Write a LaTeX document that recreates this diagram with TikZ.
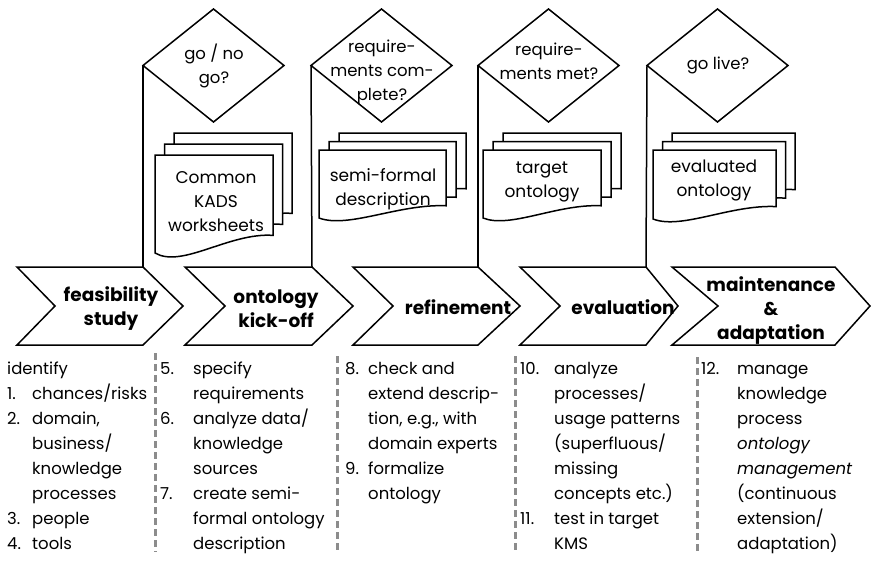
\documentclass[tikz,border=0pt]{standalone}
\usepackage{fontspec}
\setmainfont{Poppins}
\usetikzlibrary{shapes.geometric}
\newcommand\mydoc[4]{%
  \draw[docline] (#1,#2) -- ({#1+#3},#2) -- ({#1+#3},{#2+0.82*#4})
    .. controls ({#1+0.627*#3},{#2+0.79*#4}) and ({#1+0.23*#3},{#2+1.16*#4}) .. (#1,{#2+#4}) -- cycle;}
\tikzset{
  shapeline/.style={draw=black, line width=1.5pt, line join=miter},
  docline/.style={shapeline, fill=white},
  dec/.style={diamond, shapeline, minimum width=141pt, minimum height=113pt, inner sep=0pt, outer sep=0pt},
  dectext/.style={align=center, font=\fontsize{16.5}{24}\selectfont, inner sep=0pt},
  doctext/.style={align=center, font=\fontsize{17}{24}\selectfont, inner sep=0pt},
  phase/.style={align=center, font=\fontsize{18.5}{24}\selectfont\bfseries, inner sep=0pt},
  coltext/.style={anchor=base west, inner sep=0pt, font=\fontsize{16.5}{25}\selectfont},
  sepline/.style={draw=gray!90, line width=3pt, dash pattern=on 7pt off 4pt},
  link/.style={draw=black, line width=1.5pt}
}
\begin{document}
\begin{tikzpicture}[x=1pt,y=-1pt]
\useasboundingbox (0,0) rectangle (871,562);

% chevrons
\draw[shapeline] (17,267) -- (143,267) -- (183,306) -- (143,345) -- (17,345) -- (55,306) -- cycle;
\draw[shapeline] (185,267) -- (312,267) -- (353,306) -- (312,345) -- (185,345) -- (225,306) -- cycle;
\draw[shapeline] (353,267) -- (478,267) -- (520,306) -- (478,345) -- (353,345) -- (393,306) -- cycle;
\draw[shapeline] (520,267) -- (646,267) -- (678,306) -- (646,345) -- (520,345) -- (560,306) -- cycle;
\draw[shapeline] (672,267) -- (835,267) -- (870,306) -- (835,345) -- (672,345) -- (718,306) -- cycle;
\coordinate (c1tr) at (143,267);
\coordinate (c2tr) at (312,267);
\coordinate (c3tr) at (478,267);
\coordinate (c4tr) at (646,267);

\node[phase] (p1) at (111,309) {feasibility\\study};
\node[phase] (p2) at (276,309) {ontology\\kick-off};
\node[phase] (p3) at (458,307) {refinement};
\node[phase] (p4) at (623,307) {evaluation};
\node[phase] (p5) at (771,311) {maintenance\\\&\\adaptation};

% decisions
\node[dec] (d1) at (213.5,65.5) {};
\node[dec] (d2) at (381.5,65.5) {};
\node[dec] (d3) at (548.5,65.5) {};
\node[dec] (d4) at (717.5,65.5) {};
\node[dectext] (t1) at (214,66) {go / no\\go?};
\node[dectext] (t2) at (382,72) {require-\\ments com-\\plete?};
\node[dectext] (t3) at (549,61) {require-\\ments met?};
\node[dectext] (t4) at (718,65) {go live?};

\draw[link] (c1tr) -- (d1.west);
\draw[link] (c2tr) -- (d2.west);
\draw[link] (c3tr) -- (d3.west);
\draw[link] (c4tr) -- (d4.west);

% documents
\mydoc{174}{133}{118}{98}
\mydoc{164.5}{144}{118}{98}
\mydoc{155}{155}{118}{98}
\mydoc{339}{133}{127}{68}
\mydoc{329}{141.5}{127}{68}
\mydoc{319}{150}{127}{68}
\mydoc{503}{133}{118}{68}
\mydoc{493}{141.5}{118}{68}
\mydoc{483}{150}{118}{68}
\mydoc{672}{133}{123}{69}
\mydoc{662.5}{141.5}{123}{69}
\mydoc{653}{150}{123}{69}
\node[doctext] (k1) at (216,202) {Common\\KADS\\worksheets};
\node[doctext] (k2) at (383,189) {semi-formal\\description};
\node[doctext] (k3) at (542,182) {target\\ontology};
\node[doctext] (k4) at (714,181) {evaluated\\ontology};

% separators
\coordinate (s2a) at (155,353); \coordinate (s2b) at (155,552);
\coordinate (s3a) at (337,356); \coordinate (s3b) at (337,551);
\coordinate (s4a) at (515,356); \coordinate (s4b) at (515,551);
\coordinate (s5a) at (697,357); \coordinate (s5b) at (697,551);
\draw[sepline] (s2a) -- (s2b);
\draw[sepline] (s3a) -- (s3b);
\draw[sepline] (s4a) -- (s4b);
\draw[sepline] (s5a) -- (s5b);

% columns
\node[coltext] (col1) at (7,374) {\begin{tabular}[t]{@{}l@{}l@{}}
\multicolumn{2}{@{}l@{}}{identify}\\
\makebox[25pt][l]{1.} & chances/risks\\
\makebox[25pt][l]{2.} & domain,\\
 & business/\\
 & knowledge\\
 & processes\\
\makebox[25pt][l]{3.} & people\\
\makebox[25pt][l]{4.} & tools
\end{tabular}};
\node[coltext] (col2) at (160,374) {\begin{tabular}[t]{@{}l@{}l@{}}
\makebox[33pt][l]{5.} & specify\\
 & requirements\\
\makebox[33pt][l]{6.} & analyze data/\\
 & knowledge\\
 & sources\\
\makebox[33pt][l]{7.} & create semi-\\
 & formal ontology\\
 & description
\end{tabular}};
\node[coltext] (col3) at (345,374) {\begin{tabular}[t]{@{}l@{}l@{}}
\makebox[23pt][l]{8.} & check and\\
 & extend descrip-\\
 & tion, e.g., with\\
 & domain experts\\
\makebox[23pt][l]{9.} & formalize\\
 & ontology
\end{tabular}};
\node[coltext] (col4) at (520,374) {\begin{tabular}[t]{@{}l@{}l@{}}
\makebox[34pt][l]{10.} & analyze\\
 & processes/\\
 & usage patterns\\
 & (superfluous/\\
 & missing\\
 & concepts etc.)\\
\makebox[34pt][l]{11.} & test in target\\
 & KMS
\end{tabular}};
\node[coltext] (col5) at (701,374) {\begin{tabular}[t]{@{}l@{}l@{}}
\makebox[36pt][l]{12.} & manage\\
 & knowledge\\
 & process\\
 & \textit{ontology}\\
 & \textit{management}\\
 & (continuous\\
 & extension/\\
 & adaptation)
\end{tabular}};
\end{tikzpicture}
\end{document}
